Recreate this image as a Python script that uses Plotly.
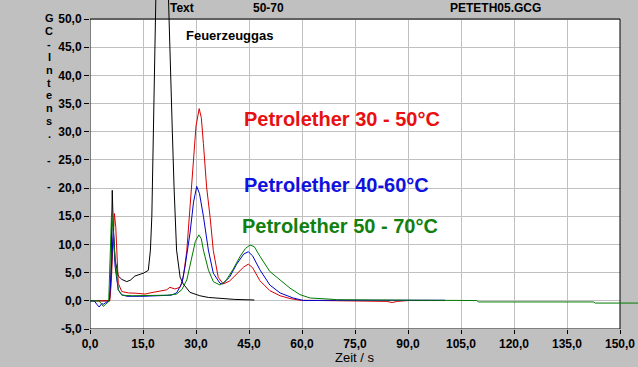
import plotly.graph_objects as go

# ---------------- data ----------------
x_ticks = [0, 15, 30, 45, 60, 75, 90, 105, 120, 135, 150]
x_tick_labels = ["0,0", "15,0", "30,0", "45,0", "60,0", "75,0", "90,0",
                 "105,0", "120,0", "135,0", "150,0"]
y_ticks = [-5, 0, 5, 10, 15, 20, 25, 30, 35, 40, 45, 50]
y_tick_labels = ["-5,0", "0,0", "5,0", "10,0", "15,0", "20,0", "25,0",
                 "30,0", "35,0", "40,0", "45,0", "50,0"]

# Feuerzeuggas (black)
t_black = [0, 3, 5.5, 5.9, 6.3, 6.6, 7.1, 8.0, 9.0, 10.4, 11.5, 12.7, 14.0, 15.1,
           16.5, 17.1, 17.5, 17.9, 18.3, 18.7, 20.3, 22.0, 22.6, 23.3, 23.8, 24.5,
           25.5, 26.4, 28.3, 31.1, 33.5, 36.8, 41.0, 46.5]
v_black = [0, 0, 0, 4, 19.6, 13, 7.3, 4.4, 3.8, 3.4, 3.7, 4.4, 4.7, 4.9,
           5.4, 9.0, 15, 27, 42, 56, 95, 56, 42, 30, 20, 9,
           4.2, 3.0, 1.5, 0.9, 0.6, 0.4, 0.25, 0.15]

# Petrolether 30 - 50 °C (red)
t_red = [0, 3, 5.6, 6.0, 6.5, 6.9, 7.3, 7.6, 8.0, 9.0, 10.9, 13.0, 15.6, 17.0,
         18.9, 20.5, 21.7, 22.6, 24.0, 25.5, 26.4, 27.4, 28.8, 29.2, 30.0, 30.9,
         31.5, 32.1, 33.0, 34.0, 34.9, 36.3, 37.7, 39.5, 41.5, 43.5, 44.8, 46.0,
         48.1, 50.9, 53.8, 56.6, 59.4, 65, 75, 84, 85.5, 87, 90, 100.5]
v_red = [0, 0, 0, 3, 11, 15.5, 13, 9.0, 3.1, 1.65, 1.4, 1.35, 1.2, 1.4,
         1.65, 1.9, 1.95, 2.4, 2.1, 2.4, 4.15, 8.9, 20.2, 24.9, 31, 34.1,
         32.5, 27.9, 20.2, 14.8, 8.9, 4.15, 3.0, 3.5, 4.8, 6.0, 6.5, 5.9,
         3.56, 1.8, 0.9, 0.4, 0.1, 0.05, 0.05, -0.1, -0.3, -0.1, 0.05, 0.05]

# Petrolether 40-60 °C (blue)
t_blue = [0, 1.2, 1.9, 2.6, 3.3, 3.8, 4.5, 5.5, 6.0, 6.6, 7.1, 8.0, 9.0, 10.5,
          15, 20, 23, 24.5, 26.0, 26.9, 28.3, 29.3, 30.2, 31.0, 32.1, 33.5, 34.9,
          36.8, 37.5, 39.5, 41.5, 43.5, 44.8, 46.0, 48.1, 50.9, 53.8, 57.5, 60.4,
          70, 85, 100.5]
v_blue = [0, 0, -0.6, -1.1, -0.5, -0.6, -0.3, 0, 5, 12.8, 6.1, 1.95, 1.06, 0.8,
          0.8, 0.9, 1.0, 1.4, 3.1, 6.1, 12.0, 17.5, 20.3, 19.0, 15, 9.0, 4.9,
          3.1, 3.0, 4.2, 6.5, 8.3, 8.7, 8.0, 5.5, 2.8, 1.4, 0.5, 0.05,
          0.1, 0.1, 0.1]

# Petrolether 50 - 70 °C (green)
t_green = [0, 2.5, 3.2, 3.8, 4.4, 4.9, 5.3, 5.7, 6.1, 6.6, 7.1, 8.0, 9.0, 12,
           18, 22, 24.5, 26.0, 27.4, 28.8, 29.8, 30.8, 31.5, 32.1, 33.5, 34.9,
           36.8, 38.5, 40.5, 42.5, 44.0, 45.3, 46.5, 48.1, 50.9, 53.8, 56.6,
           59.4, 62.3, 67.9, 69.8, 80, 100, 109.4, 110, 142.5, 143, 156]
v_green = [0, 0, -0.5, -1.0, -0.6, -0.4, 0, 8, 15.5, 12, 7.3, 1.95, 1.0, 0.9,
           0.9, 1.0, 1.2, 2.0, 3.7, 7.9, 10.5, 11.7, 11.0, 9.0, 5.5, 3.4,
           2.8, 3.6, 5.6, 7.9, 9.3, 9.9, 9.6, 7.9, 5.2, 3.7, 2.25,
           1.1, 0.5, 0.3, 0.2, 0.15, 0.05, 0.05, -0.2, -0.2, -0.4, -0.4]

series = [
    ("Feuerzeuggas", t_black, v_black, "#000000"),
    ("Petrolether 30 - 50°C", t_red, v_red, "#d80000"),
    ("Petrolether 40-60°C", t_blue, v_blue, "#0000cc"),
    ("Petrolether 50 - 70°C", t_green, v_green, "#007a00"),
]

y_title_chars = ["G", "C", "-", "I", "n", "t", "e", "n", "s", ".", "", "-", "", "-"]

# ---------------- figure ----------------
W, H = 638, 367
ML, MB = 90, 38
PW, PH = W - ML, H - MB
X_END = 150 * PW / 530.0          # plot spans past 150 into grey margin
Y_TOP = -5 + 55 * PH / 310.0      # plot spans above 50 into grey strip

FONT = "Liberation Sans, Arial, sans-serif"
GREY = "#c0c0c0"

fig = go.Figure()
for name, t, v, col in series:
    fig.add_trace(go.Scatter(x=t, y=v, mode="lines", name=name,
                             line=dict(color=col, width=1),
                             hoverinfo="skip", showlegend=False))

def py2paper(py):
    return (PH - py) / PH

annotations = [
    dict(text="Text", xref="x", yref="paper", x=22.0, y=py2paper(8),
         xanchor="left", yanchor="middle", showarrow=False,
         font=dict(family=FONT, size=12, color="black", weight="bold")),
    dict(text="50-70", xref="x", yref="paper", x=45.6, y=py2paper(8),
         xanchor="left", yanchor="middle", showarrow=False,
         font=dict(family=FONT, size=12, color="black", weight="bold")),
    dict(text="PETETH05.GCG", xref="x", yref="paper", x=101.4, y=py2paper(8),
         xanchor="left", yanchor="middle", showarrow=False,
         font=dict(family=FONT, size=12, color="black", weight="bold")),
    dict(text="Feuerzeuggas", xref="x", yref="y", x=26.6, y=47.0,
         xanchor="left", yanchor="middle", showarrow=False,
         font=dict(family=FONT, size=13, color="black", weight="bold")),
    dict(text="Petrolether 30 - 50°C", xref="x", yref="y", x=42.9, y=32.3,
         xanchor="left", yanchor="middle", showarrow=False,
         font=dict(family=FONT, size=20, color="#e81010", weight="bold")),
    dict(text="Petrolether 40-60°C", xref="x", yref="y", x=42.9, y=20.5,
         xanchor="left", yanchor="middle", showarrow=False,
         font=dict(family=FONT, size=20, color="#1010e0", weight="bold")),
    dict(text="Petrolether 50 - 70°C", xref="x", yref="y", x=42.5, y=13.3,
         xanchor="left", yanchor="middle", showarrow=False,
         font=dict(family=FONT, size=20, color="#108010", weight="bold")),
    dict(text="Zeit / s", xref="x", yref="paper", x=75, y=py2paper(357.5),
         xanchor="center", yanchor="middle", showarrow=False,
         font=dict(family=FONT, size=13, color="black")),
]
for i, ch in enumerate(y_title_chars):
    if not ch:
        continue
    annotations.append(dict(text=ch, xref="paper", yref="paper",
                            x=(49 - ML) / PW, y=py2paper(18 + 12.9 * i),
                            xanchor="center", yanchor="middle", showarrow=False,
                            borderpad=0,
                            font=dict(family=FONT, size=11, color="black", weight="bold")))

shapes = [
    dict(type="rect", xref="x", yref="y", x0=0, x1=150, y0=-5, y1=50,
         fillcolor="white", line=dict(width=0), layer="below"),
    dict(type="rect", xref="x", yref="y", x0=0, x1=150, y0=-5, y1=50,
         fillcolor="rgba(0,0,0,0)", line=dict(color="black", width=1), layer="between"),
]

fig.update_layout(
    width=W, height=H,
    margin=dict(l=ML, r=0, t=0, b=MB, pad=0, autoexpand=False),
    paper_bgcolor=GREY, plot_bgcolor=GREY,
    font=dict(family=FONT, color="black"),
    annotations=annotations, shapes=shapes,
    showlegend=False,
)
fig.update_xaxes(range=[0, X_END], tickvals=x_ticks, ticktext=x_tick_labels,
                 automargin=False,
                 showgrid=True, gridcolor=GREY, gridwidth=1, zeroline=False,
                 showline=False, ticks="outside", ticklen=4, tickcolor="black",
                 tickfont=dict(family=FONT, size=12, color="black", weight="bold"),
                 fixedrange=True)
fig.update_yaxes(range=[-5, Y_TOP], tickvals=y_ticks, ticktext=y_tick_labels,
                 automargin=False,
                 showgrid=True, gridcolor=GREY, gridwidth=1, zeroline=False,
                 showline=False, ticks="outside", ticklen=5, tickcolor="black",
                 tickfont=dict(family=FONT, size=12, color="black", weight="bold"),
                 fixedrange=True)

fig.write_html("out.html", config={"displayModeBar": False},
               post_script="document.body.style.margin='0';document.body.style.overflow='hidden';")
